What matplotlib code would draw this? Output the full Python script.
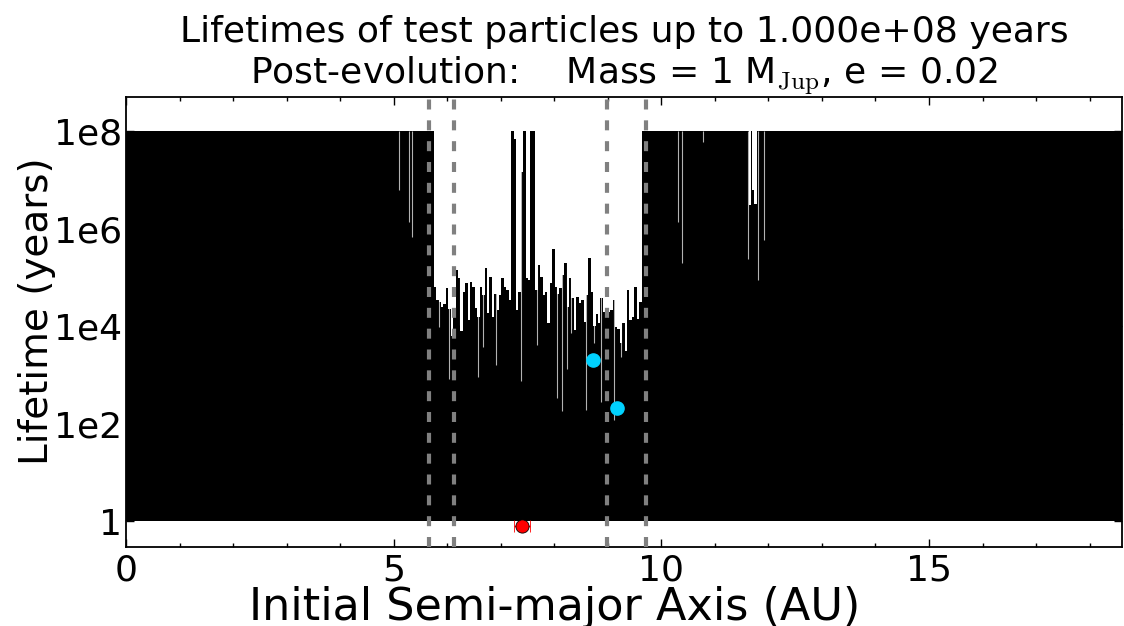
import numpy as np
import matplotlib
matplotlib.use('Agg')
import matplotlib.pyplot as plt

# ---- Data ----
A_JUP = 7.4          # planet semi-major axis (AU)
E_JUP = 0.02
T_MAX = 1e8          # integration length (years)

# stable blocks at the cap: (start, end) in AU
stable_left = (0.0, 5.75)
stable_right = (9.63, 18.6)

# chaotic zone: log10(lifetime) per test particle, left to right
gap_start, gap_end = 5.75, 9.63
gap_log_life = [
    4.80, 4.53, 4.50, 4.40, 4.45, 4.78, 4.35, 3.80, 4.30, 5.15,
    4.98, 3.90, 4.70, 4.88, 4.12, 4.90, 4.80, 4.37, 4.20, 4.80,
    4.64, 5.19, 4.27, 5.01, 4.20, 4.67, 4.33, 4.64, 4.98, 4.81,
    4.74, 4.53, 8.00, 7.84, 4.33, 4.71, 7.17, 8.00, 4.98, 4.95,
    8.00, 8.00, 4.74, 5.25, 5.01, 4.64,
    4.70, 4.06, 4.88, 5.58, 4.81, 4.67, 4.78, 5.05, 5.29, 4.40,
    4.98, 4.57, 3.92, 4.60, 4.47, 4.53, 4.09, 4.64, 5.39, 4.70,
    4.00, 4.25, 4.06, 4.57,
    4.29, 4.22, 4.29, 4.33, 4.53, 3.99, 3.95, 3.65, 4.06, 3.50,
    4.74, 4.13, 4.19, 4.81, 4.16, 4.50,
]

# single short-lived particles showing as thin grey lines (AU, log10 yr)
dip_a = [5.10, 5.28, 5.34, 5.84, 6.03, 6.24, 6.58, 6.67, 6.92, 7.37,
         7.67, 8.06, 8.14, 8.23, 8.32, 8.59, 8.75, 8.88, 9.11, 9.24,
         10.32, 10.38, 10.77, 11.61, 11.80, 11.91]
dip_log = [6.79, 6.14, 5.83, 3.99, 2.93, 4.02, 2.97, 3.58, 3.20, 2.88,
           3.62, 2.54, 2.26, 3.12, 3.86, 2.28, 3.65, 2.45, 2.07, 3.37,
           6.14, 5.29, 7.78, 5.37, 4.94, 5.76]

# short group of unstable particles inside the outer stable zone
notch_a = [11.66, 11.71, 11.76]
notch_log = [6.48, 6.79, 6.50]

# resonance / Hill-zone boundaries (dashed)
boundaries = [5.66, 6.12, 8.99, 9.72]

# surviving / captured particles
cyan_a = [8.73, 9.18]
cyan_life = [2.0e3, 2.1e2]
planet_life = 0.8

INK = 'black'
GREY = '#808080'
CYAN = '#00D2FF'

plt.rcParams['mathtext.fontset'] = 'cm'
plt.rcParams['font.family'] = 'DejaVu Sans'

fig, ax = plt.subplots(figsize=(11.24, 6.26), dpi=100)
fig.subplots_adjust(left=0.1121, right=0.998, top=0.845, bottom=0.1262)

# stable blocks
for lo, hi in (stable_left, stable_right):
    ax.bar(lo, T_MAX - 1, width=hi - lo, bottom=1, align='edge',
           color=INK, linewidth=0, zorder=2)

# chaotic zone bars
edges = np.linspace(gap_start, gap_end, len(gap_log_life) + 1)
ax.bar(edges[:-1], 10 ** np.array(gap_log_life) - 1, width=np.diff(edges),
       bottom=1, align='edge', color=INK, linewidth=0, zorder=2)

# notch in outer stable zone
ax.bar(notch_a, T_MAX - 10 ** np.array(notch_log), width=0.045,
       bottom=10 ** np.array(notch_log), color='white', linewidth=0,
       zorder=3)

# thin dips (white, semi-transparent -> grey over black)
ax.vlines(dip_a, 10 ** np.array(dip_log), T_MAX, color='white',
          alpha=0.7, linewidth=0.8, zorder=3)

for b in boundaries:
    ax.axvline(b, color=GREY, linewidth=3, linestyle=(0, (2.4, 2.6)),
               zorder=4)

ax.plot(cyan_a, cyan_life, 'o', color=CYAN, markersize=9.5,
        markeredgecolor=CYAN, zorder=5)
ax.errorbar([A_JUP], [planet_life], xerr=[A_JUP * E_JUP], fmt='o',
            color='red', ecolor='red', markersize=9.5,
            markeredgecolor='black', markeredgewidth=0.6,
            capsize=4, elinewidth=1, zorder=6)

ax.set_yscale('log')
ax.set_xlim(0, 18.6)
ax.set_ylim(0.3, 5e8)
ax.set_yticks([1, 1e2, 1e4, 1e6, 1e8])
ax.set_yticklabels(['1', '1e2', '1e4', '1e6', '1e8'])
ax.set_xticks([0, 5, 10, 15])
ax.set_xticks(np.arange(0, 19, 1), minor=True)

ax.tick_params(which='both', direction='in', top=True, right=True,
               labelsize=26)
ax.tick_params(which='major', length=6, width=1)
ax.tick_params(which='minor', length=3, width=1)
ax.tick_params(axis='x', pad=5)
ax.tick_params(axis='y', pad=3)
for s in ax.spines.values():
    s.set_linewidth(1.3)

ax.set_xlabel('Initial Semi-major Axis (AU)', fontsize=32)
ax.xaxis.set_label_coords(0.43, -0.087)
ax.set_ylabel('Lifetime (years)', fontsize=28)
ax.yaxis.set_label_coords(-0.07, 0.524)
ax.set_title('Lifetimes of test particles up to %.3e years\n'
             'Post-evolution:    Mass = 1 M$_{\\rm Jup}$, e = %.2f'
             % (T_MAX, E_JUP), fontsize=26, pad=8)

fig.savefig('out.png', dpi=100)
